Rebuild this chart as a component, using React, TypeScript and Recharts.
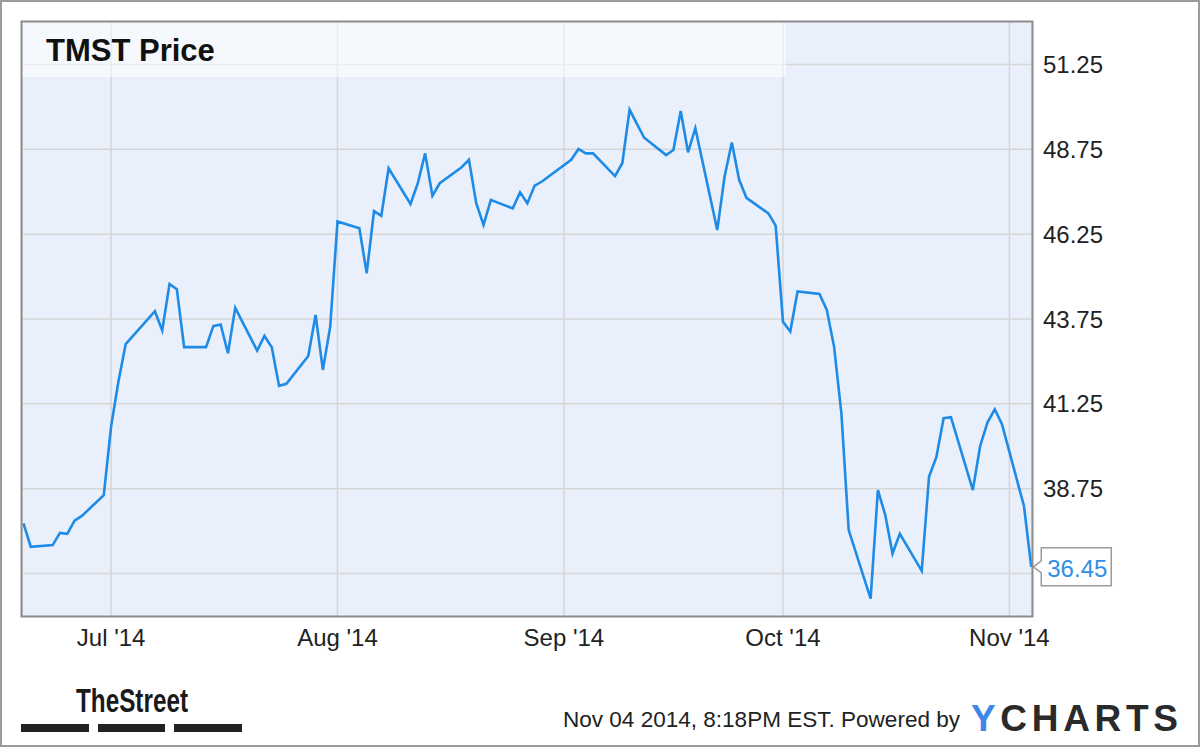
import React from 'react';
import { LineChart, Line, XAxis, YAxis, CartesianGrid, LabelList } from 'recharts';

const dates = [
  '2014-06-19', '2014-06-20', '2014-06-23', '2014-06-24', '2014-06-25', '2014-06-26', '2014-06-27', '2014-06-30',
  '2014-07-01', '2014-07-02', '2014-07-03', '2014-07-07', '2014-07-08', '2014-07-09', '2014-07-10', '2014-07-11',
  '2014-07-14', '2014-07-15', '2014-07-16', '2014-07-17', '2014-07-18', '2014-07-21', '2014-07-22', '2014-07-23',
  '2014-07-24', '2014-07-25', '2014-07-28', '2014-07-29', '2014-07-30', '2014-07-31',
  '2014-08-01', '2014-08-04', '2014-08-05', '2014-08-06', '2014-08-07', '2014-08-08', '2014-08-11', '2014-08-12',
  '2014-08-13', '2014-08-14', '2014-08-15', '2014-08-18', '2014-08-19', '2014-08-20', '2014-08-21', '2014-08-22',
  '2014-08-25', '2014-08-26', '2014-08-27', '2014-08-28', '2014-08-29',
  '2014-09-02', '2014-09-03', '2014-09-04', '2014-09-05', '2014-09-08', '2014-09-09', '2014-09-10', '2014-09-11',
  '2014-09-12', '2014-09-15', '2014-09-16', '2014-09-17', '2014-09-18', '2014-09-19', '2014-09-22', '2014-09-23',
  '2014-09-24', '2014-09-25', '2014-09-26', '2014-09-29', '2014-09-30',
  '2014-10-01', '2014-10-02', '2014-10-03', '2014-10-06', '2014-10-07', '2014-10-08', '2014-10-09', '2014-10-10',
  '2014-10-13', '2014-10-14', '2014-10-15', '2014-10-16', '2014-10-17', '2014-10-20', '2014-10-21', '2014-10-22',
  '2014-10-23', '2014-10-24', '2014-10-27', '2014-10-28', '2014-10-29', '2014-10-30', '2014-10-31',
  '2014-11-03', '2014-11-04',
];

const prices = [
  37.73, 37.04, 37.09, 37.45, 37.42, 37.81, 37.95, 38.56,
  40.58, 41.9, 43.01, 43.98, 43.41, 44.78, 44.63, 42.92,
  42.92, 43.54, 43.59, 42.74, 44.08, 42.82, 43.25, 42.92,
  41.78, 41.84, 42.66, 43.87, 42.25, 43.52,
  46.62, 46.42, 45.1, 46.93, 46.79, 48.19, 47.14, 47.75,
  48.63, 47.38, 47.75, 48.22, 48.44, 47.16, 46.52, 47.26,
  47.01, 47.48, 47.16, 47.68, 47.8,
  48.44, 48.76, 48.63, 48.63, 47.96, 48.34, 49.92, 49.5,
  49.09, 48.58, 48.73, 49.88, 48.66, 49.37, 46.37, 47.94,
  48.95, 47.85, 47.32, 46.86, 46.5,
  43.67, 43.38, 44.56, 44.49, 44.02, 42.93, 40.97, 37.53,
  35.51, 38.71, 37.98, 36.84, 37.42, 36.33, 39.1, 39.68,
  40.83, 40.86, 38.71, 40.01, 40.7, 41.09, 40.64,
  38.24, 36.45,
];

// Gridline values; the lowest one's label is hidden behind the last-price callout in the reference.
const yGridValues = [36.25, 38.75, 41.25, 43.75, 46.25, 48.75, 51.25];
const yTickLabels = [38.75, 41.25, 43.75, 46.25, 48.75, 51.25];
const yDomain = [35, 52.5];
const xTickDates = ['2014-07-01', '2014-08-01', '2014-09-01', '2014-10-01', '2014-11-01'];
const xTickLabels = ["Jul '14", "Aug '14", "Sep '14", "Oct '14", "Nov '14"];

const titleText = 'TMST Price';
const footerText = 'Nov 04 2014, 8:18PM EST.  Powered by';
const brandLeft = 'TheStreet';

const FONT = '"Liberation Sans", Arial, Helvetica, sans-serif';
const DAY = 86400000;

const toTs = (s: string) => {
  const [y, m, d] = s.split('-').map(Number);
  return Date.UTC(y, m - 1, d);
};

const data = dates.map((d, i) => ({ t: toTs(d), price: prices[i] }));
const xTicks = xTickDates.map(toTs);
const xDomain = [toTs(dates[0]) - 0.2 * DAY, toTs(dates[dates.length - 1]) + 0.1 * DAY];
const lastIndex = data.length - 1;

const formatX = (v: number) => {
  const i = xTicks.indexOf(v);
  return i >= 0 ? xTickLabels[i] : '';
};

const Callout = (props: any) => {
  const vb = props.viewBox || {};
  const x = props.x ?? vb.x;
  const y = props.y ?? vb.y;
  const index = props.index;
  if (index !== lastIndex || x == null || y == null) return null;
  const bl = x + 10;
  const br = x + 80;
  const top = y - 19;
  const bottom = y + 19;
  const d = `M${x + 2},${y} L${bl},${y - 6} L${bl},${top} L${br},${top} L${br},${bottom} L${bl},${bottom} L${bl},${y + 6} Z`;
  return (
    <g>
      <path d={d} fill="#ffffff" stroke="#9a9a9a" strokeWidth={1.5} />
      <text x={x + 16} y={y + 10} fontSize={24} fontFamily={FONT} fill="#2F8FE6">
        {Number(props.value).toFixed(2)}
      </text>
    </g>
  );
};

export default function App() {
  return (
    <div style={{ position: 'absolute', left: 0, top: 0, width: 1200, height: 747, background: '#fff', fontFamily: FONT }}>
      <LineChart
        width={1200}
        height={747}
        data={data}
        margin={{ top: 22, left: 22, right: 0, bottom: 0 }}
      >
        <CartesianGrid fill="#EAF0FB" stroke="#D6D6D6" strokeWidth={1.5} horizontalValues={yGridValues} />
        <XAxis
          type="number"
          dataKey="t"
          domain={xDomain}
          ticks={xTicks}
          interval={0}
          tickFormatter={formatX}
          height={131}
          axisLine={false}
          tickLine={false}
          tickSize={0}
          tickMargin={13}
          tick={{ fontSize: 24, fill: '#222', fontFamily: FONT }}
        />
        <YAxis
          orientation="right"
          domain={yDomain}
          ticks={yTickLabels}
          interval={0}
          width={168}
          axisLine={false}
          tickLine={false}
          tickSize={0}
          tickMargin={11}
          tickFormatter={(v: number) => v.toFixed(2)}
          tick={{ fontSize: 24, fill: '#222', fontFamily: FONT }}
        />
        <Line
          type="linear"
          dataKey="price"
          stroke="#1E8BE6"
          strokeWidth={2.6}
          dot={false}
          isAnimationActive={false}
        >
          <LabelList dataKey="price" content={Callout} />
        </Line>
      </LineChart>
      <svg width={1200} height={747} style={{ position: 'absolute', left: 0, top: 0, pointerEvents: 'none' }}>
        <rect x={1} y={1} width={1198} height={745} fill="none" stroke="#9b9b9b" strokeWidth={2} />
        <rect x={22} y={22} width={764} height={55} fill="rgba(255,255,255,0.5)" />
        <rect x={21.5} y={21.5} width={1011} height={595} fill="none" stroke="#8c8c8c" strokeWidth={2} />
        <text x={46} y={61} fontSize={31} fontWeight="bold" fontFamily={FONT} fill="#111">{titleText}</text>
        <text x={76} y={712} fontSize={34} fontWeight="bold" fontFamily={FONT} fill="#1a1a1a" textLength={112} lengthAdjust="spacingAndGlyphs">{brandLeft}</text>
        <rect x={21} y={724} width={68} height={8} fill="#222" />
        <rect x={98} y={724} width={67} height={8} fill="#222" />
        <rect x={174} y={724} width={68} height={8} fill="#222" />
        <text x={563} y={727} fontSize={22} fontFamily={FONT} fill="#222" textLength={397} lengthAdjust="spacingAndGlyphs">{footerText}</text>
        <text x={971} y={731} fontSize={37} fontWeight="bold" fontFamily={FONT} textLength={207} lengthAdjust="spacing">
          <tspan fill="#3F86E6">Y</tspan>
          <tspan fill="#2a2a2a">CHARTS</tspan>
        </text>
      </svg>
    </div>
  );
}
